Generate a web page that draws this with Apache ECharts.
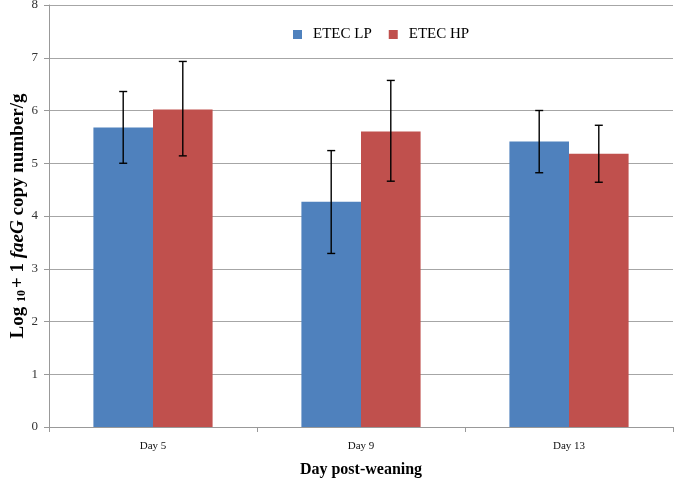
<!DOCTYPE html>
<html><head><meta charset="utf-8">
<script src="https://cdn.jsdelivr.net/npm/echarts@6/dist/echarts.min.js"></script>
<style>html,body{margin:0;padding:0;background:#fff}#c{width:675px;height:483px}</style>
</head><body><div id="c"></div>
<script>
var categories = ['Day 5', 'Day 9', 'Day 13'];
var lpValues = [5.68, 4.27, 5.41];
var hpValues = [6.02, 5.60, 5.18];
var lpLow = [5.00, 3.29, 4.82];
var lpHigh = [6.36, 5.24, 6.00];
var hpLow = [5.14, 4.66, 4.64];
var hpHigh = [6.93, 6.57, 5.72];
var yTicks = [0, 1, 2, 3, 4, 5, 6, 7, 8];

var chart = echarts.init(document.getElementById('c'));
var font = 'Liberation Serif, Times New Roman, serif';

function errSeries(name, low, high, offsetIdx) {
  var data = low.map(function (l, i) { return [i, l, high[i]]; });
  return {
    type: 'custom', name: name + ' err', silent: true, z: 10,
    data: data,
    renderItem: function (params, api) {
      var x = api.value(0);
      var lo = api.coord([x, api.value(1)]);
      var hi = api.coord([x, api.value(2)]);
      var band = api.size([1, 0])[0];
      var bw = band * 0.2865;
      var cx = lo[0] + (offsetIdx === 0 ? -bw / 2 : bw / 2);
      var cap = 4;
      var st = { stroke: '#000', lineWidth: 1.4 };
      return { type: 'group', children: [
        { type: 'line', shape: { x1: cx, y1: lo[1], x2: cx, y2: hi[1] }, style: st },
        { type: 'line', shape: { x1: cx - cap, y1: lo[1], x2: cx + cap, y2: lo[1] }, style: st },
        { type: 'line', shape: { x1: cx - cap, y1: hi[1], x2: cx + cap, y2: hi[1] }, style: st }
      ]};
    }
  };
}

chart.setOption({
  animation: false,
  grid: { left: 49, right: 2, top: 5, bottom: 56, containLabel: false, outerBoundsMode: 'none' },
  legend: {
    top: 22, left: 288, itemWidth: 9, itemHeight: 9, itemGap: 17,
    icon: 'rect',
    data: ['ETEC LP', 'ETEC HP'],
    textStyle: { fontFamily: font, fontSize: 15, color: '#000', padding: [0, 0, 0, 6] }
  },
  xAxis: {
    type: 'category', data: categories,
    axisLine: { lineStyle: { color: '#999', width: 1 } },
    axisTick: { show: true, length: 5, lineStyle: { color: '#999' } },
    axisLabel: { fontFamily: font, fontSize: 11, color: '#111', margin: 14 },
    name: 'Day post-weaning', nameLocation: 'middle', nameGap: 35, nameMoveOverlap: false,
    nameTextStyle: { fontFamily: font, fontSize: 16, fontWeight: 'bold', color: '#000' }
  },
  yAxis: {
    type: 'value', min: 0, max: 8, interval: 1,
    axisLine: { show: true, lineStyle: { color: '#999', width: 1 } },
    axisTick: { show: true, length: 5, inside: false, lineStyle: { color: '#999' } },
    splitLine: { lineStyle: { color: '#a6a6a6', width: 1 } },
    axisLabel: { fontFamily: font, fontSize: 13, color: '#333', margin: 11,
      formatter: function (v) { return yTicks.indexOf(v) >= 0 ? String(v) : ''; } },
    name: '{b|Log }{s|10}{b|+ 1 }{i|faeG}{b| copy number/g}',
    nameLocation: 'middle', nameGap: 21, nameRotate: 90, nameMoveOverlap: false,
    nameTextStyle: {
      fontFamily: font, color: '#000',
      rich: {
        b: { fontFamily: font, fontSize: 19, fontWeight: 'bold', color: '#000' },
        s: { fontFamily: font, fontSize: 12, fontWeight: 'bold', color: '#000', verticalAlign: 'bottom', padding: [7, 2, 0, 0] },
        i: { fontFamily: font, fontSize: 19, fontWeight: 'bold', fontStyle: 'italic', color: '#000' }
      }
    }
  },
  series: [
    { name: 'ETEC LP', type: 'bar', data: lpValues, barGap: '0%', barCategoryGap: '42.7%',
      itemStyle: { color: '#4F81BD' } },
    { name: 'ETEC HP', type: 'bar', data: hpValues,
      itemStyle: { color: '#C0504D' } },
    errSeries('ETEC LP', lpLow, lpHigh, 0),
    errSeries('ETEC HP', hpLow, hpHigh, 1)
  ]
});
</script></body></html>
